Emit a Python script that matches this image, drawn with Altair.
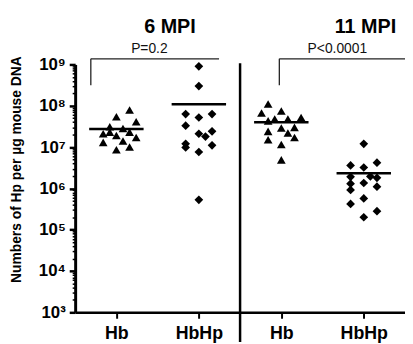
import altair as alt
import pandas as pd

# ---- data ------------------------------------------------------------
groups = ["6 MPI Hb", "6 MPI HbHp", "11 MPI Hb", "11 MPI HbHp"]
tick_labels = ["Hb", "HbHp", "Hb", "HbHp"]
shapes = ["triangle-up", "diamond", "triangle-up", "diamond"]

hb_6 = [7.9e7, 5.4e7, 4.1e7, 3.1e7, 2.3e7, 2.8e7, 2.1e7, 2.3e7, 1.7e7,
        1.3e7, 1.9e7, 1.4e7, 1.0e7, 8.6e6]
hb_6_slot = [2, 0, 3, -1, -1, 1, -2, 2, 3, -2, 0, 1, 2, 0]

hbhp_6 = [9.0e8, 3.0e8, 6.3e7, 5.2e7, 6.3e7, 3.3e7, 2.1e7, 1.8e7, 2.4e7,
          1.2e7, 9.8e6, 7.6e6, 1.1e7, 5.3e5]
hbhp_6_slot = [0, 0, -2, 0, 2, -2, 0, 1, 2, -2, -2, 0, 2, 0]

hb_11 = [1.1e8, 6.7e7, 7.5e7, 4.3e7, 4.8e7, 4.8e7, 5.2e7, 2.9e7, 3.0e7,
         2.4e7, 2.2e7, 1.7e7, 1.5e7, 1.15e7, 4.9e6]
hb_11_slot = [-2, -3, 0, -2, -1, 1, 3, 0, 2, -2, 1, 2, -2, 0, 0]

hbhp_11 = [1.2e7, 3.6e6, 3.2e6, 4.2e6, 1.9e6, 1.95e6, 1.8e6, 1.3e6, 9.2e5,
           1.35e6, 1.1e6, 5.7e5, 4.2e5, 2.8e5, 2.0e5]
hbhp_11_slot = [0, -2, 0, 2, -2, 1, 2, -2, -2, 0, 2, 0, -2, 2, 0]

p_labels = ["P=0.2", "P<0.0001"]
panel_titles = ["6 MPI", "11 MPI"]
y_title = "Numbers of Hp per µg mouse DNA"

# ---- tables ------------------------------------------------------------
rows = []
for i, (vals, slots) in enumerate([(hb_6, hb_6_slot), (hbhp_6, hbhp_6_slot),
                                   (hb_11, hb_11_slot), (hbhp_11, hbhp_11_slot)]):
    for v, s in zip(vals, slots):
        rows.append({"group": groups[i], "pos": i, "value": v, "slot": s,
                     "shape": shapes[i]})
df = pd.DataFrame(rows)

brackets = pd.DataFrame([
    {"x": -0.31, "x2": 1.245, "y": 1.37e9, "y2": 1.37e9},
    {"x": -0.31, "x2": -0.31, "y": 1.37e9, "y2": 3.15e8},
    {"x": 1.976, "x2": 3.6, "y": 1.37e9, "y2": 1.37e9},
    {"x": 1.976, "x2": 1.976, "y": 1.37e9, "y2": 3.15e8},
])
divider = pd.DataFrame([{"x": 1.5, "y": 1.07e9, "y2": 190}])
ptext = pd.DataFrame([{"x": 0.40, "y": 2.3e9, "t": p_labels[0]},
                      {"x": 2.68, "y": 2.3e9, "t": p_labels[1]}])
ttext = pd.DataFrame([{"x": 0.65, "y": 8.1e9, "t": panel_titles[0]},
                      {"x": 3.02, "y": 8.1e9, "t": panel_titles[1]}])

FONT = "Liberation Sans"

y_ticks = [m * 10 ** k for k in range(3, 9) for m in range(1, 10)] + [1e9]
major_test = "abs(log(datum.value)/LN10 - round(log(datum.value)/LN10)) < 0.001"
sup = "['⁰','¹','²','³','⁴','⁵','⁶','⁷','⁸','⁹']"

xscale = alt.Scale(domain=[-0.5, 3.5], nice=False, zero=False)
yscale = alt.Scale(type="log", domain=[1e3, 1e9], nice=False)

x_axis = alt.Axis(values=[0, 1, 2, 3], title=None,
                  labelExpr="['Hb','HbHp','Hb','HbHp'][datum.value]",
                  labelFont=FONT, labelFontWeight="bold", labelFontSize=18,
                  labelColor="black", labelPadding=7, labelFlush=False,
                  labelOverlap=False, grid=False, tickSize=6, tickWidth=2,
                  tickColor="black", domainColor="black", domainWidth=2.5)
y_axis = alt.Axis(values=y_ticks, title=y_title,
                  labelExpr=f"{major_test} ? '10' + {sup}[round(log(datum.value)/LN10)] : ''",
                  labelFont=FONT, labelFontWeight="bold", labelFontSize=17,
                  labelColor="black", labelPadding=4, labelOverlap=False,
                  labelFlush=False, grid=False,
                  tickSize={"condition": {"test": major_test, "value": 6}, "value": 3},
                  tickWidth={"condition": {"test": major_test, "value": 2.5}, "value": 1.5},
                  tickColor="black", domainColor="black", domainWidth=3,
                  titleFont=FONT, titleFontWeight="bold", titleFontSize=14,
                  titleColor="black", titleAngle=270, titleAlign="center",
                  titleBaseline="middle", titleX=-59, titleY=106)

base = alt.Chart(df)

points = base.transform_calculate(xj="datum.pos + datum.slot * 0.08").mark_point(
    filled=True, color="black", opacity=1, size=78
).encode(
    x=alt.X("xj:Q", scale=xscale, axis=x_axis),
    y=alt.Y("value:Q", scale=yscale, axis=y_axis),
    shape=alt.Shape("shape:N", scale=None),
)

means = base.transform_aggregate(
    mean="mean(value)", groupby=["pos"]
).transform_calculate(
    xa="datum.pos - 0.33", xb="datum.pos + 0.33"
).mark_rule(color="black", strokeWidth=2.5).encode(
    x=alt.X("xa:Q", scale=xscale), x2="xb:Q",
    y=alt.Y("mean:Q", scale=yscale),
)

br = alt.Chart(brackets).mark_rule(color="#222222", strokeWidth=1.3).encode(
    x=alt.X("x:Q", scale=xscale), x2="x2:Q",
    y=alt.Y("y:Q", scale=yscale), y2="y2:Q",
)

div = alt.Chart(divider).mark_rule(color="black", strokeWidth=2.5).encode(
    x=alt.X("x:Q", scale=xscale),
    y=alt.Y("y:Q", scale=yscale), y2="y2:Q",
)

pt = alt.Chart(ptext).mark_text(font=FONT, fontSize=14, color="#111111",
                                baseline="middle", align="center").encode(
    x=alt.X("x:Q", scale=xscale), y=alt.Y("y:Q", scale=yscale), text="t:N")

tt = alt.Chart(ttext).mark_text(font=FONT, fontSize=20, fontWeight="bold",
                                color="black", baseline="middle",
                                align="center").encode(
    x=alt.X("x:Q", scale=xscale), y=alt.Y("y:Q", scale=yscale), text="t:N")

chart = alt.layer(points, means, br, div, pt, tt).properties(
    width=334, height=251, autosize="none",
    padding={"left": 68, "top": 55, "right": 0, "bottom": 36},
).configure_view(stroke=None)

chart.save("out.html", embed_options={"renderer": "svg", "actions": False})
